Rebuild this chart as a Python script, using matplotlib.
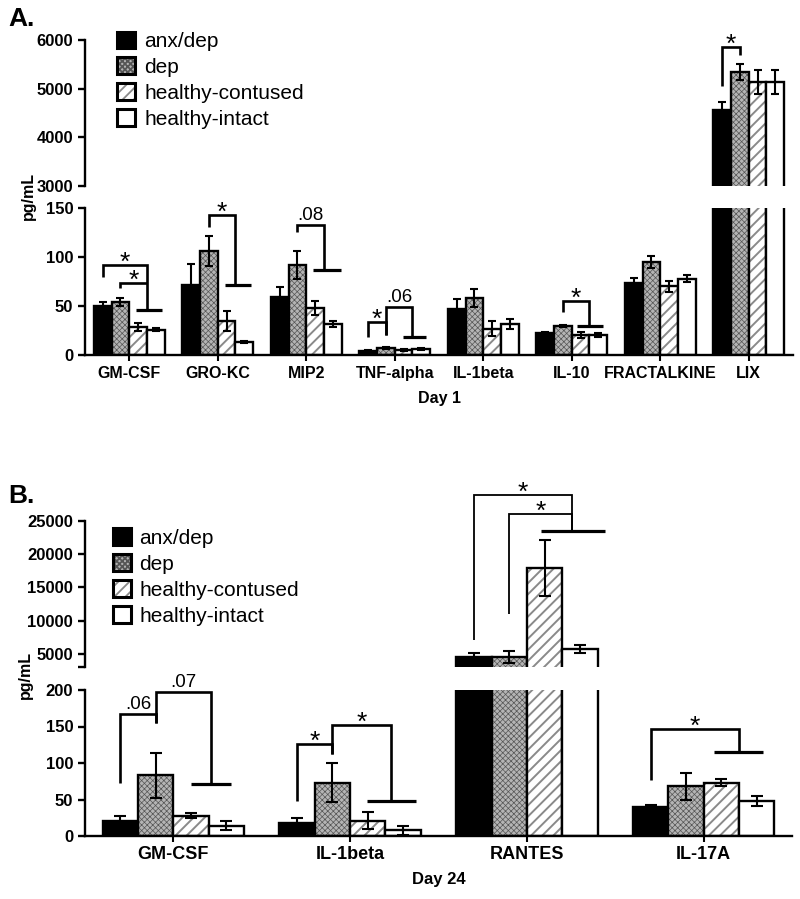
import matplotlib
matplotlib.use('Agg')
import matplotlib.pyplot as plt
import numpy as np
from matplotlib.patches import Patch

plt.rcParams['font.family'] = ['Liberation Sans', 'DejaVu Sans']
plt.rcParams['hatch.linewidth'] = 1.3

groups = ['anx/dep', 'dep', 'healthy-contused', 'healthy-intact']

# Day 1 cytokines (pg/mL, mean and SEM)
day1_cats = ['GM-CSF', 'GRO-KC', 'MIP2', 'TNF-alpha', 'IL-1beta', 'IL-10', 'FRACTALKINE', 'LIX']
day1_anxdep = [50, 71, 59, 4, 47, 22, 73, 4560]
day1_anxdep_err = [4, 22, 10, 1, 10, 1, 6, 165]
day1_dep = [54, 106, 92, 7, 58, 30, 95, 5340]
day1_dep_err = [4, 15, 14, 1, 9, 1, 6, 160]
day1_hc = [29, 35, 48, 5, 27, 20, 70, 5140]
day1_hc_err = [4, 10, 7, 1, 8, 3, 6, 250]
day1_hi = [26, 13, 32, 6, 32, 20, 78, 5140]
day1_hi_err = [2, 1, 3, 1, 5, 2, 4, 250]

# Day 24 cytokines
day24_cats = ['GM-CSF', 'IL-1beta', 'RANTES', 'IL-17A']
day24_anxdep = [21, 18, 4550, 40]
day24_anxdep_err = [6, 6, 500, 3]
day24_dep = [83, 73, 4500, 68]
day24_dep_err = [31, 27, 900, 18]
day24_hc = [28, 21, 17900, 73]
day24_hc_err = [4, 12, 4200, 5]
day24_hi = [14, 8, 5700, 48]
day24_hi_err = [6, 6, 550, 7]

W = 0.2
FW, FH = 800, 899

# face, hatch colour, hatch, hatch width
styles = [
    dict(face='black', hcol='black', hatch=None, hlw=1.0),
    dict(face='#b4b4b4', hcol='#555555', hatch='xxxxxx', hlw=0.5),
    dict(face='white', hcol='#8a8a8a', hatch='///', hlw=1.4),
    dict(face='white', hcol='white', hatch=None, hlw=1.0),
]


def rect(x0, y0, x1, y1):
    # pixel box -> figure fraction
    return [x0 / FW, 1 - y1 / FH, (x1 - x0) / FW, (y1 - y0) / FH]


def set_hlw(patches, lw):
    for p in patches:
        if hasattr(p, 'set_hatch_linewidth'):
            p.set_hatch_linewidth(lw)


def draw_bars(ax, vals, errs, cap):
    x = np.arange(len(vals[0]))
    for k in range(4):
        pos = x + (k - 1.5) * W
        st = styles[k]
        with plt.rc_context({'hatch.linewidth': st['hlw']}):
            bc = ax.bar(pos, vals[k], W, color=st['face'], edgecolor=st['hcol'],
                        hatch=st['hatch'], linewidth=0)
        set_hlw(bc.patches, st['hlw'])
        ax.bar(pos, vals[k], W, fill=False, edgecolor='black', linewidth=1.7)
        ax.errorbar(pos, vals[k], yerr=errs[k], fmt='none', ecolor='black',
                    elinewidth=1.5, capsize=cap, capthick=1.5)


def style_axes(ax, lower):
    for s in ['top', 'right']:
        ax.spines[s].set_visible(False)
    ax.spines['left'].set_linewidth(1.7)
    if lower:
        ax.spines['bottom'].set_linewidth(1.7)
    else:
        ax.spines['bottom'].set_visible(False)
        ax.set_xticks([])
    ax.tick_params(axis='y', width=1.7, length=5)


def bracket(ax, g, xl, yl, xr, yr, yt, label, lw=1.9):
    x0 = g + xl * W
    x1 = g + xr * W
    ax.plot([x0, x0, x1, x1], [yl, yt, yt, yr], color='black', lw=lw,
            clip_on=False, solid_capstyle='butt', solid_joinstyle='miter')
    if label == '*':
        ax.annotate(label, ((x0 + x1) / 2, yt), xytext=(0, 1.5), textcoords='offset points',
                    ha='center', va='center', fontsize=19, annotation_clip=False)
    else:
        ax.annotate(label, ((x0 + x1) / 2, yt), xytext=(0, 7), textcoords='offset points',
                    ha='center', va='center', fontsize=13.5, annotation_clip=False)


def healthy(ax, g, y, o0, o1, lw=2.3):
    ax.plot([g + o0 * W, g + o1 * W], [y, y], color='black', lw=lw, clip_on=False,
            solid_capstyle='butt')


def legend(ax, x, y, pad):
    handles = []
    for st in styles:
        fill = Patch(facecolor=st['face'], edgecolor=st['hcol'], hatch=st['hatch'], linewidth=0)
        set_hlw([fill], st['hlw'])
        edge = Patch(fill=False, edgecolor='black', linewidth=2.2)
        handles.append((fill, edge))
    ax.legend(handles, groups, loc='upper left', bbox_to_anchor=(x / FW, 1 - y / FH),
              bbox_transform=ax.figure.transFigure, frameon=False, fontsize=15,
              handlelength=0.87, handleheight=0.87, labelspacing=0.3,
              handletextpad=pad, borderpad=0, borderaxespad=0)


fig = plt.figure(figsize=(8, 8.99), dpi=100)

# ---------------- Panel A ----------------
a_up = fig.add_axes(rect(85, 40, 793, 186))
a_lo = fig.add_axes(rect(85, 208, 793, 355))
vals1 = [day1_anxdep, day1_dep, day1_hc, day1_hi]
errs1 = [day1_anxdep_err, day1_dep_err, day1_hc_err, day1_hi_err]
for ax, lower in [(a_up, False), (a_lo, True)]:
    draw_bars(ax, vals1, errs1, 3)
    ax.set_xlim(-0.5, 7.5)
    style_axes(ax, lower)
a_up.set_ylim(3000, 6000)
a_up.set_yticks([3000, 4000, 5000, 6000])
a_lo.set_ylim(0, 150)
a_lo.set_yticks([0, 50, 100, 150])
a_lo.set_xticks(np.arange(len(day1_cats)))
a_lo.set_xticklabels(day1_cats, fontsize=11.5, fontweight='bold')
a_lo.tick_params(axis='x', direction='inout', length=8, width=1.5, pad=4)
for ax in (a_up, a_lo):
    for t in ax.get_yticklabels():
        t.set_fontweight('bold')
        t.set_fontsize(12)
a_lo.set_xlabel('Day 1', fontsize=11.5, fontweight='bold', labelpad=7)

bracket(a_lo, 0, -1.5, 79.6, 1.0, 46, 91.8, '*')
bracket(a_lo, 0, -0.5, 68.4, 1.0, 73.5, 73.5, '*')
healthy(a_lo, 0, 46, 0.4, 1.85)
bracket(a_lo, 1, -0.5, 130.6, 1.0, 71.4, 142.9, '*')
healthy(a_lo, 1, 71.4, 0.4, 1.9)
bracket(a_lo, 2, -0.5, 125.5, 1.0, 86.7, 132.7, '.08')
healthy(a_lo, 2, 86.7, 0.4, 1.95)
bracket(a_lo, 3, -1.5, 18.4, -0.5, 20.4, 33.7, '*')
bracket(a_lo, 3, -0.5, 20.4, 1.0, 18.4, 49, '.06')
healthy(a_lo, 3, 18.4, 0.45, 1.75)
bracket(a_lo, 5, -0.5, 43.9, 1.0, 29.6, 55.1, '*')
healthy(a_lo, 5, 29.6, 0.28, 1.75)
bracket(a_up, 7, -1.5, 5055, -0.5, 5692, 5856, '*')

legend(a_up, 117, 31.5, 0.43)
fig.text(28 / FW, 1 - 196 / FH, 'pg/mL', rotation=90, ha='center', va='center',
         fontsize=11.5, fontweight='bold')
fig.text(8 / FW, 1 - 19 / FH, 'A.', ha='left', va='center', fontsize=19, fontweight='bold')

# ---------------- Panel B ----------------
b_up = fig.add_axes(rect(85, 521, 792, 667))
b_lo = fig.add_axes(rect(85, 690, 792, 836))
vals24 = [day24_anxdep, day24_dep, day24_hc, day24_hi]
errs24 = [day24_anxdep_err, day24_dep_err, day24_hc_err, day24_hi_err]
for ax, lower in [(b_up, False), (b_lo, True)]:
    draw_bars(ax, vals24, errs24, 4.3)
    ax.set_xlim(-0.5, 3.5)
    style_axes(ax, lower)
b_up.set_ylim(3000, 25000)
b_up.set_yticks([5000, 10000, 15000, 20000, 25000])
b_up.set_yticks([3000], minor=True)
b_up.tick_params(axis='y', which='minor', width=1.7, length=5)
b_lo.set_ylim(0, 200)
b_lo.set_yticks([0, 50, 100, 150, 200])
b_lo.set_xticks(np.arange(len(day24_cats)))
b_lo.set_xticklabels(day24_cats, fontsize=13, fontweight='bold')
b_lo.tick_params(axis='x', direction='inout', length=8, width=1.5, pad=3)
for ax in (b_up, b_lo):
    for t in ax.get_yticklabels():
        t.set_fontweight('bold')
        t.set_fontsize(12)
b_lo.set_xlabel('Day 24', fontsize=12, fontweight='bold', labelpad=7)

bracket(b_lo, 0, -1.5, 72.6, -0.5, 154.8, 167, '.06')
bracket(b_lo, 0, -0.5, 154.8, 1.07, 71.2, 197, '.07')
healthy(b_lo, 0, 71.2, 0.5, 1.63)
bracket(b_lo, 1, -1.5, 48, -0.5, 112, 126, '*')
bracket(b_lo, 1, -0.5, 112, 1.16, 48, 152, '*')
healthy(b_lo, 1, 48, 0.48, 1.86)
bracket(b_up, 2, -1.5, 7105, 1.27, 23500, 28900, '*', lw=1.3)
bracket(b_up, 2, -0.5, 11015, 1.27, 23500, 26050, '*', lw=1.3)
healthy(b_up, 2, 23500, 0.39, 2.2)
bracket(b_lo, 3, -1.5, 76.7, 0.99, 115, 146.6, '*')
healthy(b_lo, 3, 115, 0.28, 1.69)

legend(b_up, 113, 528.5, 0.38)
fig.text(25 / FW, 1 - 675 / FH, 'pg/mL', rotation=90, ha='center', va='center',
         fontsize=11.5, fontweight='bold')
fig.text(8 / FW, 1 - 496 / FH, 'B.', ha='left', va='center', fontsize=19, fontweight='bold')

fig.savefig('out.png', dpi=100)
